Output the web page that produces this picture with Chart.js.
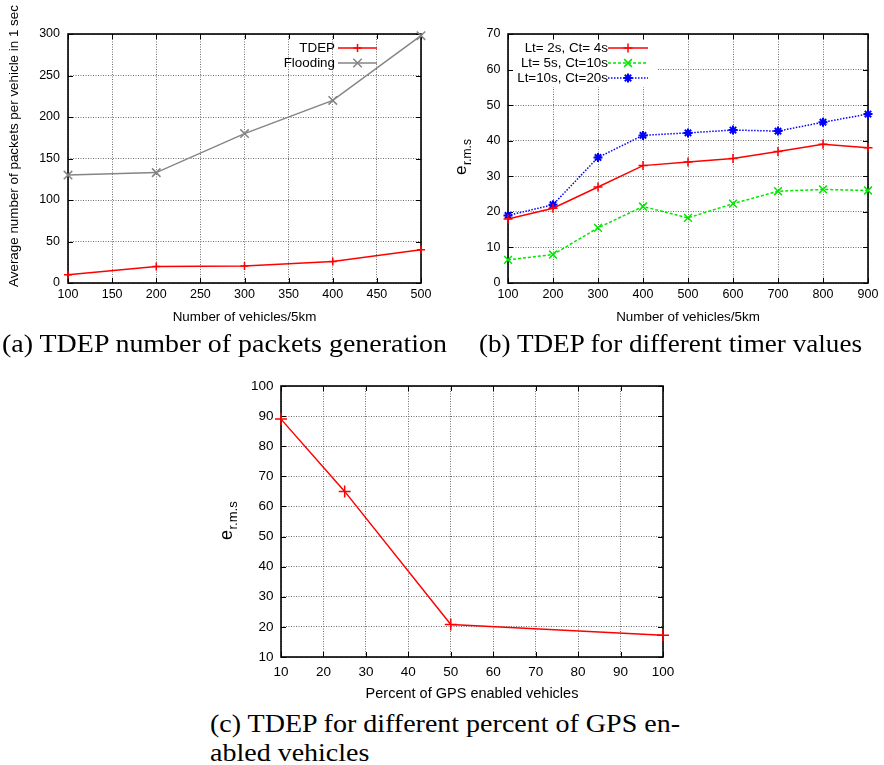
<!DOCTYPE html>
<html>
<head>
<meta charset="utf-8">
<script src="https://cdn.jsdelivr.net/npm/chart.js@4.4.1/dist/chart.umd.min.js"></script>
<style>
  body { margin: 0; background: #fff; width: 884px; height: 765px; position: relative; overflow: hidden; }
  .box { position: absolute; }
  .cap { position: absolute; white-space: nowrap; font-family: 'Liberation Serif', 'Times New Roman', serif;
         font-size: 25.5px; line-height: 25.5px; color: #000; transform-origin: 0 0; }
</style>
</head>
<body>
<div class="box" style="left:0;top:0;width:440px;height:330px"><canvas id="chartA" width="440" height="330"></canvas></div>
<div class="box" style="left:440px;top:0;width:444px;height:330px"><canvas id="chartB" width="444" height="330"></canvas></div>
<div class="box" style="left:200px;top:360px;width:484px;height:345px"><canvas id="chartC" width="484" height="345"></canvas></div>

<div class="cap" data-w="445" style="left:2px;top:331px">(a) TDEP number of packets generation</div>
<div class="cap" data-w="383" style="left:479px;top:331px">(b) TDEP for different timer values</div>
<div class="cap" id="capC1" data-w="470" style="left:210px;top:711px">(c) TDEP for different percent of GPS en-</div>
<div class="cap" id="capC2" style="left:210px;top:740px">abled vehicles</div>

<script>
// (a) paquetes generados
const vehiclesA = [100, 200, 300, 400, 500];
const tdepPackets = [10, 20, 20.5, 26, 40];
const floodingPackets = [130, 133, 180, 220, 298];

// (b) distintos valores de temporizador
const vehiclesB = [100, 200, 300, 400, 500, 600, 700, 800, 900];
const rmsLt2 = [18, 21, 27, 33, 34, 35, 37, 39, 38];
const rmsLt5 = [6.5, 8, 15.5, 21.5, 18.3, 22.3, 25.8, 26.3, 26];
const rmsLt10 = [19, 22, 35.3, 41.5, 42.2, 43, 42.7, 45.2, 47.5];

// (c) porcentaje de vehiculos con GPS
const gpsPercent = [10, 25, 50, 100];
const rmsGps = [89, 65, 20.8, 17.2];

Chart.defaults.font.family = "'Liberation Sans', Arial, sans-serif";
Chart.defaults.color = '#000';

const pairs = (xs, ys) => xs.map((x, i) => ({ x: x, y: ys[i] }));

// marcadores al estilo gnuplot (misma geometria que Chart.js)
function drawMarker(ctx, style, x, y, r) {
  ctx.beginPath();
  if (style === 'cross' || style === 'star') {
    ctx.moveTo(x - r, y); ctx.lineTo(x + r, y);
    ctx.moveTo(x, y - r); ctx.lineTo(x, y + r);
  }
  if (style === 'crossRot' || style === 'star') {
    const d = r * Math.SQRT1_2;
    ctx.moveTo(x - d, y - d); ctx.lineTo(x + d, y + d);
    ctx.moveTo(x - d, y + d); ctx.lineTo(x + d, y - d);
  }
  ctx.stroke();
}

// leyenda: texto a la derecha, luego la muestra de linea
const gpLegend = {
  id: 'gpLegend',
  beforeDatasetsDraw(chart, args, opts) {
    if (!opts.box) return;
    const a = chart.chartArea;
    chart.ctx.save();
    chart.ctx.fillStyle = '#fff';
    chart.ctx.fillRect(a.left + 1, opts.box[0], opts.box[1] - a.left - 1, opts.box[2] - opts.box[0]);
    chart.ctx.restore();
  },
  afterDatasetsDraw(chart, args, opts) {
    const ctx = chart.ctx;
    ctx.save();
    ctx.font = opts.fontSize + "px 'Liberation Sans', Arial, sans-serif";
    ctx.textAlign = 'right';
    ctx.textBaseline = 'middle';
    chart.data.datasets.forEach((ds, i) => {
      const y = opts.rows[i];
      ctx.fillStyle = '#000';
      ctx.fillText(ds.label, opts.textRight, y);
      ctx.strokeStyle = ds.borderColor;
      ctx.lineWidth = ds.borderWidth;
      ctx.setLineDash(ds.borderDash || []);
      ctx.beginPath();
      ctx.moveTo(opts.lineStart, y); ctx.lineTo(opts.lineEnd, y);
      ctx.stroke();
      ctx.setLineDash([]);
      ctx.lineWidth = ds.pointBorderWidth;
      drawMarker(ctx, ds.pointStyle, (opts.lineStart + opts.lineEnd) / 2, y, ds.pointRadius);
    });
    ctx.restore();
  }
};

// marco negro con marcas interiores
const gpFrame = {
  id: 'gpFrame',
  beforeDatasetsDraw(chart) {
    const { ctx, chartArea: a, scales: { x, y } } = chart;
    ctx.save();
    ctx.strokeStyle = '#000';
    ctx.lineWidth = 1;
    ctx.beginPath();
    x.ticks.forEach(t => {
      const px = Math.round(x.getPixelForValue(t.value)) + 0.5;
      ctx.moveTo(px, a.bottom); ctx.lineTo(px, a.bottom - 5);
      ctx.moveTo(px, a.top); ctx.lineTo(px, a.top + 5);
    });
    y.ticks.forEach(t => {
      const py = Math.round(y.getPixelForValue(t.value)) + 0.5;
      ctx.moveTo(a.left, py); ctx.lineTo(a.left + 5, py);
      ctx.moveTo(a.right, py); ctx.lineTo(a.right - 5, py);
    });
    ctx.stroke();
    ctx.lineWidth = 1.6;
    ctx.strokeRect(a.left, a.top, a.right - a.left, a.bottom - a.top);
    ctx.restore();
  }
};

// titulo del eje y (texto girado o e con subindice r.m.s)
const gpYLabel = {
  id: 'gpYLabel',
  afterDraw(chart, args, opts) {
    const ctx = chart.ctx;
    ctx.save();
    ctx.fillStyle = '#000';
    ctx.translate(opts.x, opts.y);
    ctx.rotate(-Math.PI / 2);
    if (opts.sub) {
      ctx.textAlign = 'left';
      ctx.textBaseline = 'alphabetic';
      ctx.font = opts.size + "px 'Liberation Sans', Arial, sans-serif";
      ctx.fillText(opts.text, 0, 0);
      const w = ctx.measureText(opts.text).width;
      ctx.font = opts.subSize + "px 'Liberation Sans', Arial, sans-serif";
      ctx.fillText(opts.sub, w + 0.5, opts.subSize * 0.4);
    } else {
      ctx.textAlign = 'center';
      ctx.textBaseline = 'middle';
      ctx.font = opts.size + "px 'Liberation Sans', Arial, sans-serif";
      ctx.fillText(opts.text, 0, 0);
    }
    ctx.restore();
  }
};

function gridAxis(min, max, step, tickSize, pad) {
  return {
    type: 'linear', min: min, max: max,
    grid: { color: '#6e6e6e', lineWidth: 1, drawTicks: false },
    border: { display: false, dash: [1, 1.5] },
    ticks: { stepSize: step, padding: pad, font: { size: tickSize }, color: '#000' }
  };
}

function makeChart(id, datasets, o) {
  const xAxis = gridAxis(o.x[0], o.x[1], o.x[2], o.tickSize, o.xPad);
  xAxis.title = { display: true, text: o.xTitle, font: { size: o.titleSize }, padding: { top: 0, bottom: o.titlePad } };
  xAxis.afterFit = s => { s.height = o.xHeight; };
  const yAxis = gridAxis(o.y[0], o.y[1], o.y[2], o.tickSize, o.yPad);
  yAxis.afterFit = s => { s.width = o.yWidth; };
  return new Chart(document.getElementById(id), {
    type: 'line',
    data: { datasets: datasets },
    options: {
      responsive: false,
      animation: false,
      devicePixelRatio: 1,
      layout: { padding: { top: o.top, right: o.right, left: 0, bottom: 0 } },
      scales: { x: xAxis, y: yAxis },
      plugins: {
        legend: { display: false },
        tooltip: { enabled: false },
        gpLegend: o.legend || false,
        gpYLabel: o.yLabel
      }
    },
    plugins: o.legend ? [gpLegend, gpFrame, gpYLabel] : [gpFrame, gpYLabel]
  });
}

function series(label, xs, ys, color, style, radius, dash, markWidth) {
  return {
    label: label,
    data: pairs(xs, ys),
    borderColor: color,
    backgroundColor: color,
    borderWidth: 1.5,
    borderDash: dash || [],
    tension: 0,
    clip: false,
    pointStyle: style,
    pointRadius: radius,
    pointBorderWidth: markWidth || 1.5,
    pointBorderColor: color
  };
}

makeChart('chartA', [
  series('TDEP', vehiclesA, tdepPackets, '#ff0000', 'cross', 4),
  series('Flooding', vehiclesA, floodingPackets, '#858585', 'crossRot', 6)
], {
  x: [100, 500, 50], y: [0, 300, 50],
  tickSize: 12.5, titleSize: 13.4, xPad: 4.5, yPad: 8, titlePad: 4.5,
  xTitle: 'Number of vehicles/5km',
  xHeight: 47, yWidth: 68, top: 34, right: 19,
  legend: { fontSize: 13.4, textRight: 335, lineStart: 338, lineEnd: 377, rows: [48, 63] },
  yLabel: { text: 'Average number of packets per vehicle in 1 sec', size: 13.4, x: 14, y: 146 }
});

makeChart('chartB', [
  series('Lt= 2s, Ct= 4s', vehiclesB, rmsLt2, '#ff0000', 'cross', 4.5),
  series('Lt= 5s, Ct=10s', vehiclesB, rmsLt5, '#00e600', 'crossRot', 5.5, [3, 2]),
  series('Lt=10s, Ct=20s', vehiclesB, rmsLt10, '#0000ff', 'star', 4.5, [1.5, 1.5], 2)
], {
  x: [100, 900, 100], y: [0, 70, 10],
  tickSize: 12.5, titleSize: 13.4, xPad: 4.5, yPad: 7.5, titlePad: 4.5,
  xTitle: 'Number of vehicles/5km',
  xHeight: 47, yWidth: 68, top: 34, right: 16,
  legend: { fontSize: 13.4, textRight: 168, lineStart: 168, lineEnd: 208, rows: [48, 63, 78], box: [41, 217, 87] },
  yLabel: { text: 'e', sub: 'r.m.s', size: 17, subSize: 12, x: 26, y: 175 }
});

makeChart('chartC', [
  series('TDEP', gpsPercent, rmsGps, '#ff0000', 'cross', 6)
], {
  x: [10, 100, 10], y: [10, 100, 10],
  tickSize: 13.5, titleSize: 14.5, xPad: 6.9, yPad: 7.5, titlePad: 2.3,
  xTitle: 'Percent of GPS enabled vehicles',
  xHeight: 48, yWidth: 81, top: 26, right: 21,
  yLabel: { text: 'e', sub: 'r.m.s', size: 18, subSize: 13, x: 32, y: 180 }
});

// ajustar el ancho de los pies de figura
let capScale = 1;
document.querySelectorAll('.cap[data-w]').forEach(el => {
  const s = Number(el.dataset.w) / el.getBoundingClientRect().width;
  el.style.transform = 'scaleX(' + s + ')';
  if (el.id === 'capC1') capScale = s;
});
document.getElementById('capC2').style.transform = 'scaleX(' + capScale + ')';
</script>
</body>
</html>
